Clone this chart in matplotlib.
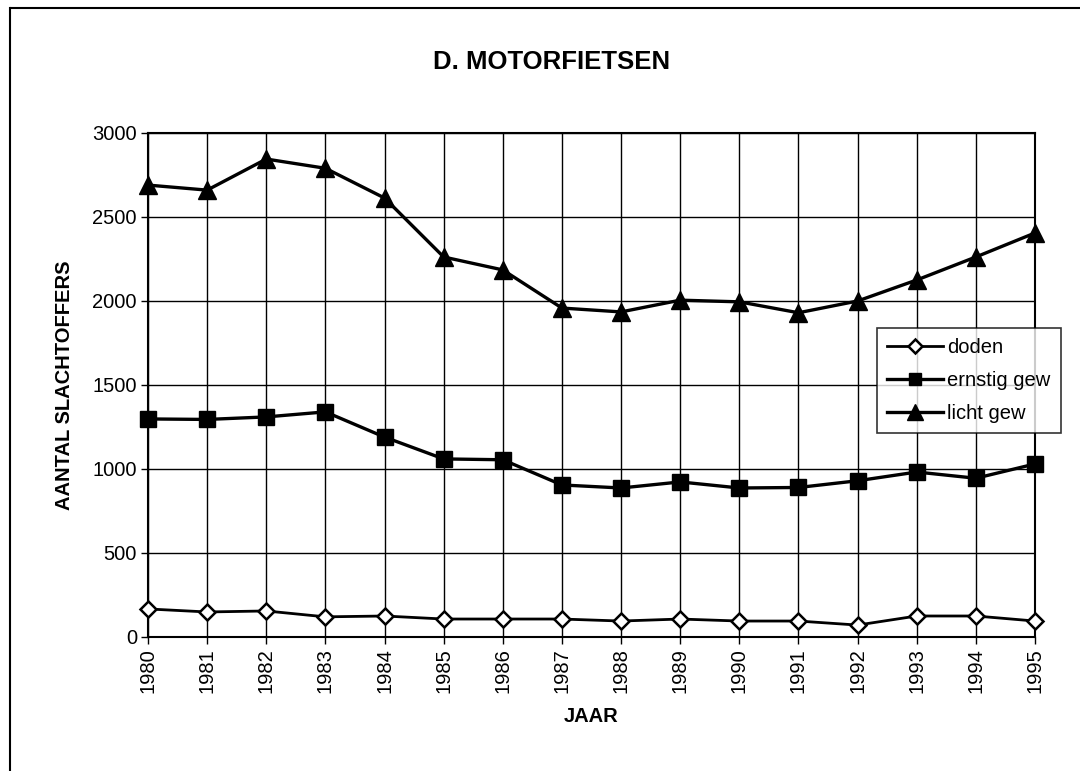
import matplotlib
matplotlib.use("Agg")
import matplotlib.pyplot as plt
from matplotlib.lines import Line2D

plt.rcParams['font.family'] = ['Liberation Sans', 'DejaVu Sans']

# data
years = list(range(1980, 1996))
doden = [167, 149, 155, 120, 125, 107, 107, 107, 95, 107, 95, 95, 71, 125, 125, 95]
ernstig_gew = [1298, 1295, 1310, 1340, 1190, 1060, 1055, 905, 887, 923, 887, 890, 930, 982, 945, 1030]
licht_gew = [2690, 2660, 2845, 2790, 2613, 2262, 2185, 1958, 1935, 2005, 1995, 1930, 2000, 2125, 2262, 2405]
yticks = [0, 500, 1000, 1500, 2000, 2500, 3000]

fig = plt.figure(figsize=(10.8, 7.71), dpi=100)
ax = fig.add_axes([148 / 1080, 1 - 637 / 771, (1035 - 148) / 1080, 504 / 771])

ax.plot(years, doden, color='black', lw=2, marker='D', markersize=8,
        markerfacecolor='white', markeredgecolor='black', markeredgewidth=1.8,
        label='doden', zorder=3, clip_on=False)
ax.plot(years, ernstig_gew, color='black', lw=2.4, marker='s', markersize=11,
        label='ernstig gew', zorder=3, clip_on=False)
ax.plot(years, licht_gew, color='black', lw=2.4, marker='^', markersize=13,
        label='licht gew', zorder=3, clip_on=False)

ax.set_xlim(years[0], years[-1])
ax.set_ylim(0, 3000)
ax.set_yticks(yticks)
ax.set_xticks(years)
ax.set_xticklabels([str(y) for y in years], rotation=90, fontsize=14.5)
ax.tick_params(axis='y', labelsize=14.5)
ax.tick_params(direction='out', length=5, width=1, color='black', pad=3)
ax.grid(True, color='black', lw=1)
ax.set_axisbelow(True)
for s in ax.spines.values():
    s.set_linewidth(1.5)

ax.set_ylabel('AANTAL SLACHTOFFERS', fontsize=14.5, fontweight='bold', labelpad=13)
ax.set_xlabel('JAAR', fontsize=14.5, fontweight='bold', labelpad=10)

fig.text(552 / 1080, 1 - 62 / 771, 'D. MOTORFIETSEN', fontsize=18.5, fontweight='bold',
         ha='center', va='center')

leg = fig.legend(loc='upper left', bbox_to_anchor=(877 / 1080, 1 - 328 / 771),
                 fontsize=14.5, frameon=True, fancybox=False, handlelength=2.8,
                 handletextpad=0.2, borderpad=0.5, labelspacing=0.7,
                 borderaxespad=0, markerscale=0.85)
leg.get_frame().set_edgecolor('black')
leg.get_frame().set_linewidth(1.2)

# outer border (top and left only visible)
fig.add_artist(Line2D([11 / 1080, 1], [1 - 8 / 771, 1 - 8 / 771], color='black', lw=1.5,
                      transform=fig.transFigure))
fig.add_artist(Line2D([10 / 1080, 10 / 1080], [1 - 8 / 771, 0], color='black', lw=1.5,
                      transform=fig.transFigure))

fig.savefig('out.png', dpi=100)
